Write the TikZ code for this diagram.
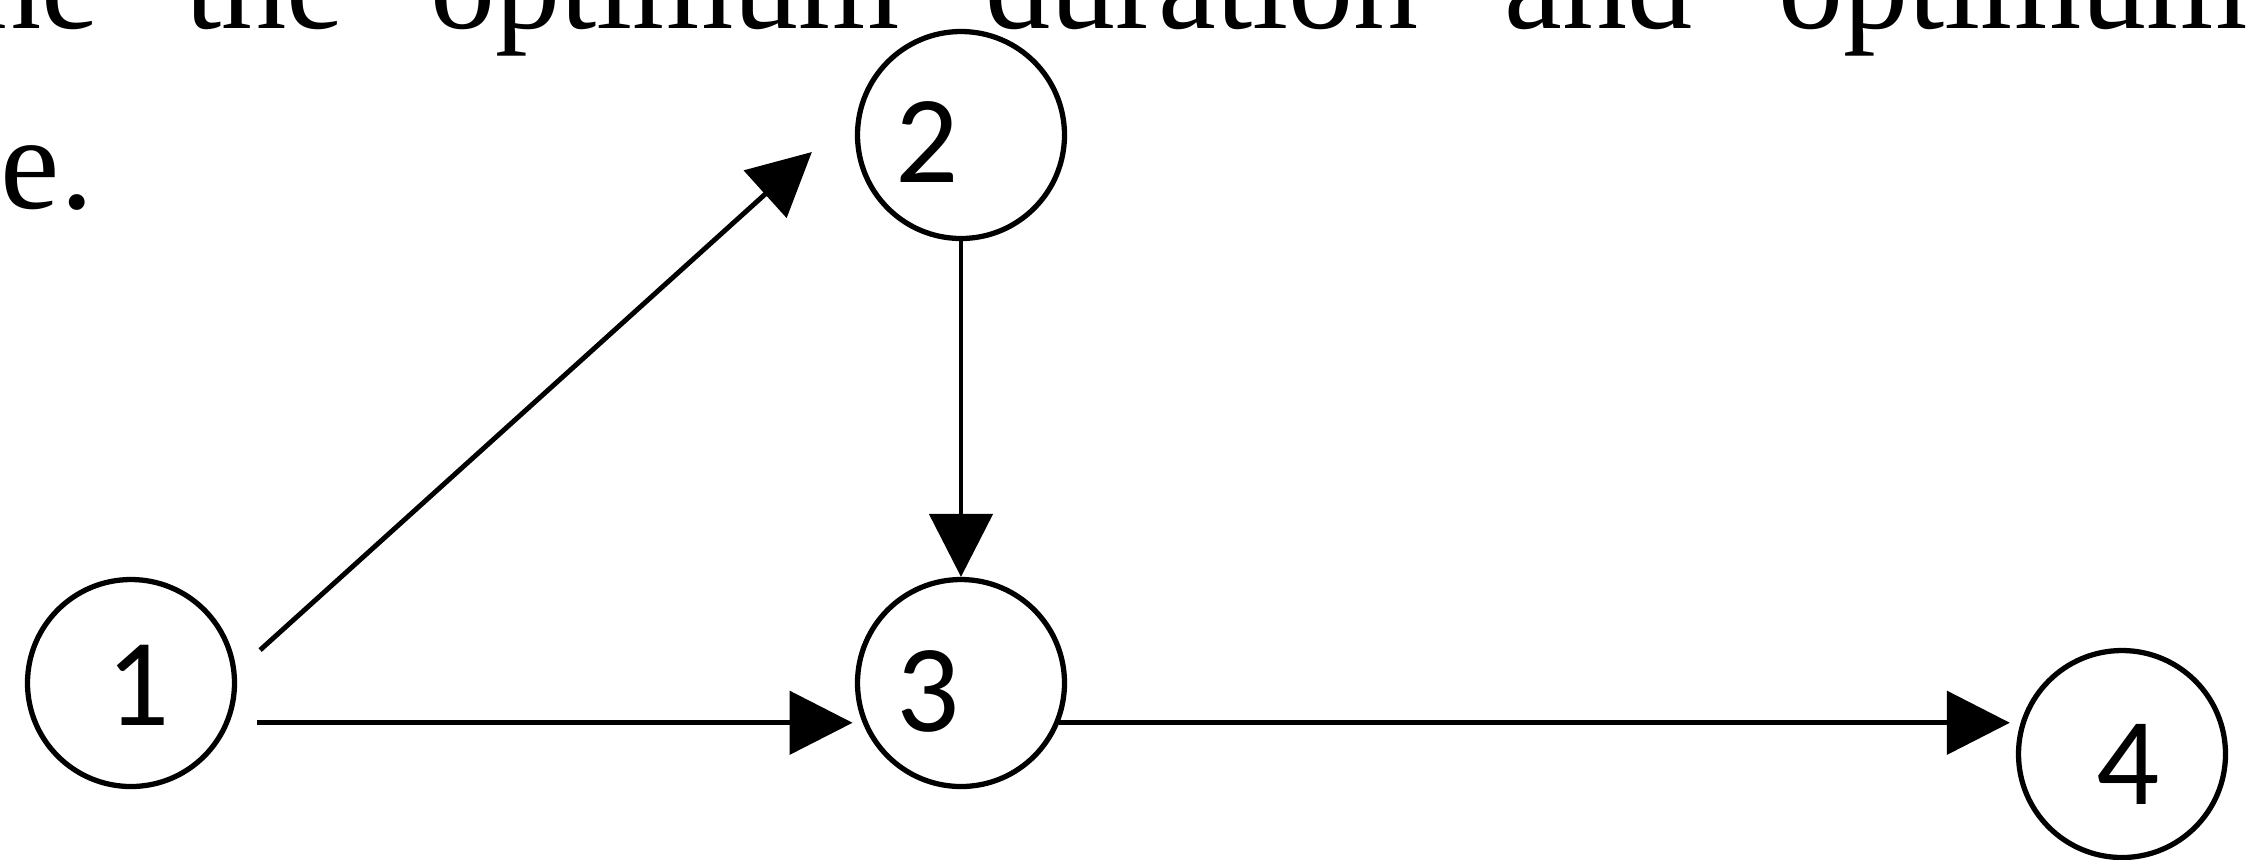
\documentclass[tikz,border=0pt]{standalone}
\usepackage{fontspec}
\setmainfont{Liberation Serif}
\newfontfamily\numfont{Carlito}
\usetikzlibrary{arrows.meta}

\begin{document}
\begin{tikzpicture}[
    vtx/.style={draw, circle, line width=1.5pt, minimum size=2.07cm, inner sep=0pt},
    num/.style={font=\numfont\fontsize{35.5}{40}\selectfont, inner sep=0pt},
    arr/.style={-{Triangle[length=0.63cm, width=0.63cm]}, line width=1.4pt}
  ]
    \useasboundingbox (0,0) rectangle (22.57,-8.59);
    \clip (0,0) rectangle (22.57,-8.59);
    % page text cut by the figure
    \node[anchor=base west, inner sep=0pt, font=\fontsize{37}{50}\selectfont] (line1) at (-0.24,-0.28) {\spaceskip=0.66em\relax ne the optimum duration and optimum};
    \node[anchor=base west, inner sep=0pt, font=\fontsize{38}{50}\selectfont] (line2) at (0,-2.08) {e.};
    % events
    \node[vtx] (n1) at (1.31,-6.83) {};
    \node[vtx] (n2) at (9.61,-1.35) {};
    \node[vtx] (n3) at (9.61,-6.83) {};
    \node[vtx] (n4) at (21.22,-7.54) {};
    \node[num] (t1) at (1.38,-6.85) {1};
    \node[num] (t2) at (9.27,-1.42) {2};
    \node[num] (t3) at (9.28,-6.91) {3};
    \node[num] (t4) at (21.28,-7.64) {4};
    % activities
    \draw[arr] ([shift={(0.23,0.33)}]n1.east) -- ([shift={(-0.43,-0.17)}]n2.west);
    \draw[arr] ([xshift=0.28cm]n1.-22) -- ([xshift=-0.1cm]n3.202);
    \draw[arr] (n2) -- (n3);
    \draw[arr] (n3.-22) -- ([xshift=-0.06cm]n4.west |- n3.-22);
\end{tikzpicture}
\end{document}
